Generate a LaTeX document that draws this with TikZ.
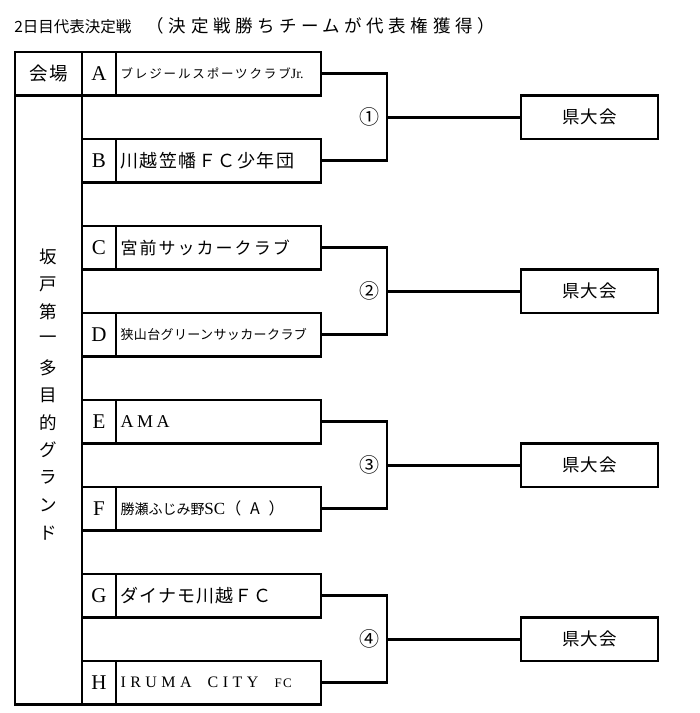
\documentclass[tikz,border=0pt]{standalone}
\usepackage{fontspec}
\setmainfont{Liberation Serif}
\newfontfamily\jp{Noto Sans CJK JP}
\usetikzlibrary{positioning}
\newcommand{\jpsize}[2]{\jp\fontsize{#1}{#1}\selectfont\addfontfeature{LetterSpace=#2}}
\newcommand{\rmsize}[2]{\rmfamily\fontsize{#1}{#1}\selectfont\addfontfeature{LetterSpace=#2}}

\begin{document}
\begin{tikzpicture}[x=1pt,y=-1pt,line width=2.6pt,
 cell/.style={draw,outer sep=0pt,inner sep=0pt,minimum height=43.5pt},
 letter/.style={cell,minimum width=34pt,font=\rmsize{21}{0}},
 team/.style={cell,minimum width=205pt,text width=196pt,align=left},
 ken/.style={cell,minimum width=137pt,font=\jpsize{17.5}{6}},
 num/.style={inner sep=0pt,font=\jpsize{20}{0}}]
 \useasboundingbox (0,0) rectangle (700,713);
 \node[anchor=west,inner sep=0pt] (title) at (13,26) {{\jpsize{15.5}{0}2日目代表決定戦　}{\jpsize{17.5}{26}（決定戦勝ちチームが代表権獲得）}};
 \node[cell,minimum width=67pt,font=\jpsize{18.5}{8}] (kaijo) at (48.5,73.75) {会場};
 \node[cell,minimum width=67pt,minimum height=609pt,below=0pt of kaijo] (venue) {};
 \foreach \c [count=\i] in {坂,戸,第,一,多,目,的,グ,ラ,ン,ド}
  \node[inner sep=0pt,font=\jpsize{17.5}{0}] (v\i) at (48.5,{257+27.6*(\i-1)}) {\c};
 \node[letter] (lA) at (99,73.75) {A};
 \node[team,right=0pt of lA,font=\jpsize{12.5}{15}] (tA) {ブレジールスポーツクラブ{\rmsize{14}{0}Jr.}};
 \node[letter] (lB) at (99,160.75) {B};
 \node[team,right=0pt of lB,font=\jpsize{18}{8}] (tB) {川越笠幡ＦＣ少年団};
 \node[letter] (lC) at (99,247.75) {C};
 \node[team,right=0pt of lC,font=\jpsize{17}{12}] (tC) {宮前サッカークラブ};
 \node[letter] (lD) at (99,334.75) {D};
 \node[team,right=0pt of lD,font=\jpsize{13}{3}] (tD) {狭山台グリーンサッカークラブ};
 \node[letter] (lE) at (99,421.75) {E};
 \node[team,right=0pt of lE,font=\rmsize{18}{20}] (tE) {AMA};
 \node[letter] (lF) at (99,508.75) {F};
 \node[team,right=0pt of lF,font=\jpsize{14}{0}] (tF) {勝瀬ふじみ野{\rmsize{17}{0}SC}{\jpsize{16}{55}（A）}};
 \node[letter] (lG) at (99,595.75) {G};
 \node[team,right=0pt of lG,font=\jpsize{18}{6}] (tG) {ダイナモ川越ＦＣ};
 \node[letter] (lH) at (99,682.75) {H};
 \node[team,right=0pt of lH,font=\rmsize{16}{28}] (tH) {IRUMA\quad CITY\quad{\rmsize{13}{10}FC}};
 \foreach \a/\b/\lab [count=\i] in {A/B/①,C/D/②,E/F/③,G/H/④}{
  \coordinate (m\i) at (387,{117.25+174*(\i-1)});
  \node[ken] (k\i) at (589.5,{117.25+174*(\i-1)}) {県大会};
  \node[num,left=6pt of m\i] (n\i) {\lab};
  \draw (t\a.east) -| (m\i) |- (t\b.east);
  \draw (m\i) -- (k\i);
 }
\end{tikzpicture}
\end{document}
